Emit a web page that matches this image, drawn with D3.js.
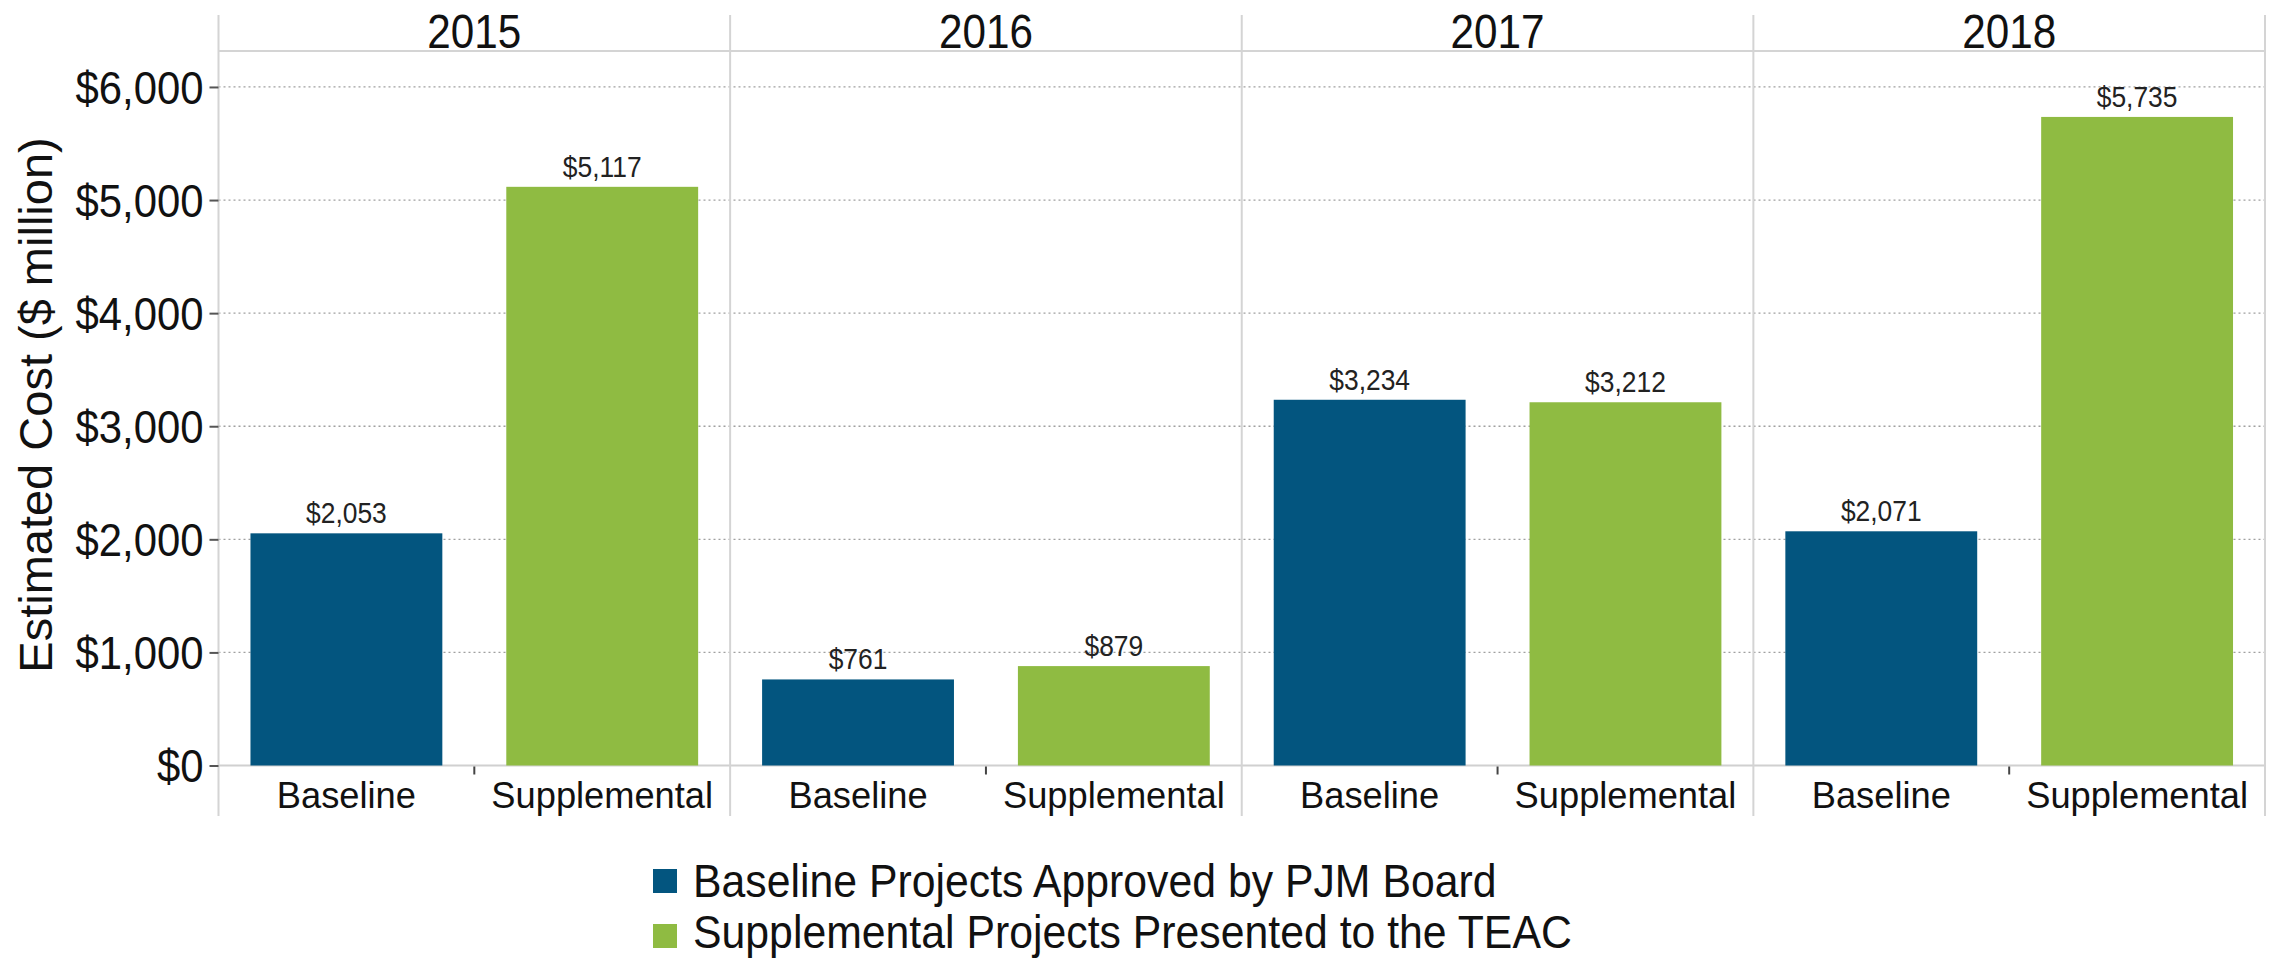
<!DOCTYPE html>
<html>
<head>
<meta charset="utf-8">
<script src="https://cdn.jsdelivr.net/npm/d3@7"></script>
<style>
  body { margin: 0; background: #fff; }
  svg text { font-family: "Liberation Sans", Arial, sans-serif; fill: #111; }
</style>
</head>
<body>
<div id="chart"></div>
<script>
// values ($ million)
var years = ["2015", "2016", "2017", "2018"];
var categories = ["Baseline", "Supplemental"];
var baselineCost = [2053, 761, 3234, 2071];
var supplementalCost = [5117, 879, 3212, 5735];
var yTicks = [0, 1000, 2000, 3000, 4000, 5000, 6000];
var legendLabels = ["Baseline Projects Approved by PJM Board", "Supplemental Projects Presented to the TEAC"];

var W = 2277, H = 962;
var plotLeft = 218.5, plotRight = 2265, plotTop = 51, plotBottom = 765.5;
var colors = ["#03557f", "#8fbb42"];

var svg = d3.select("#chart").append("svg")
    .attr("width", W)
    .attr("height", H);

// outer scale for the year panels, inner for the two categories
var fx = d3.scaleBand().domain(years).range([plotLeft, plotRight]);
var fc = d3.scaleBand().domain(categories).range([0, fx.bandwidth()])
    .paddingInner(0.25).paddingOuter(0.125);
var y = d3.scaleLinear().domain([0, 6318]).range([plotBottom, plotTop]);

// text is a bit narrower than Arial in the original
function place(sel, x, yy, sx) {
    sel.attr("transform", "translate(" + x + "," + yy + ") scale(" + sx + ",1)");
}

// dotted gridlines
svg.append("g")
    .selectAll("line")
    .data(yTicks.filter(d => d > 0))
    .enter().append("line")
    .attr("x1", plotLeft).attr("x2", plotRight)
    .attr("y1", d => y(d)).attr("y2", d => y(d))
    .style("stroke", "#a0a0a0")
    .style("stroke-width", 1.3)
    .style("stroke-dasharray", "2,3");

// panel frame: header line, baseline, dividers
svg.append("line")
    .attr("x1", plotLeft).attr("x2", plotRight).attr("y1", plotTop).attr("y2", plotTop)
    .style("stroke", "#d4d4d4").style("stroke-width", 2);
svg.append("line")
    .attr("x1", plotLeft).attr("x2", plotRight).attr("y1", plotBottom).attr("y2", plotBottom)
    .style("stroke", "#d0d0d0").style("stroke-width", 2);
svg.append("g")
    .selectAll("line")
    .data(years.concat(["end"]))
    .enter().append("line")
    .attr("x1", (d, i) => i < years.length ? fx(d) : plotRight)
    .attr("x2", (d, i) => i < years.length ? fx(d) : plotRight)
    .attr("y1", 15).attr("y2", 816)
    .style("stroke", "#d4d4d4").style("stroke-width", 2);

// y axis
var yAxis = svg.append("g")
    .attr("transform", "translate(" + plotLeft + ",0)")
    .call(d3.axisLeft(y).tickValues(yTicks).tickSize(9).tickPadding(0)
        .tickFormat(d => "$" + d3.format(",")(d)));
yAxis.select(".domain").remove();
yAxis.selectAll(".tick line").style("stroke", "#555").style("stroke-width", 2);
yAxis.selectAll(".tick text")
    .attr("x", 0)
    .attr("dy", "0.35em")
    .style("font-size", "46px")
    .style("fill", "#111")
    .style("font-family", "'Liberation Sans', Arial, sans-serif")
    .attr("transform", "translate(-15,0) scale(0.91,1)");

// y axis title
svg.append("text")
    .attr("transform", "translate(52,405) rotate(-90)")
    .attr("text-anchor", "middle")
    .style("font-size", "47px")
    .text("Estimated Cost ($ million)");

// year headers
svg.append("g")
    .selectAll("text")
    .data(years)
    .enter().append("text")
    .attr("text-anchor", "middle")
    .style("font-size", "48px")
    .text(d => d)
    .each(function(d) { place(d3.select(this), fx(d) + fx.bandwidth() / 2, 48, 0.88); });

// bars
var rows = years.map((yr, i) => ({ year: yr, values: [baselineCost[i], supplementalCost[i]] }));
var panel = svg.selectAll(".panel")
    .data(rows)
    .enter().append("g")
    .attr("class", "panel")
    .attr("transform", d => "translate(" + fx(d.year) + ",0)");

var bar = panel.selectAll(".bar")
    .data(d => d.values.map((v, j) => ({ cat: categories[j], value: v, idx: j })))
    .enter().append("g")
    .attr("class", "bar");

bar.append("rect")
    .attr("x", d => fc(d.cat))
    .attr("width", fc.bandwidth())
    .attr("y", d => y(d.value))
    .attr("height", d => plotBottom - y(d.value))
    .style("fill", d => colors[d.idx]);

// value labels
bar.append("text")
    .attr("text-anchor", "middle")
    .style("font-size", "30px")
    .style("fill", "#222")
    .text(d => "$" + d3.format(",")(d.value))
    .each(function(d) { place(d3.select(this), fc(d.cat) + fc.bandwidth() / 2, y(d.value) - 10, 0.88); });

// category labels and the small middle tick
panel.selectAll(".cat")
    .data(categories)
    .enter().append("text")
    .attr("class", "cat")
    .attr("text-anchor", "middle")
    .style("font-size", "37px")
    .text(d => d)
    .each(function(d) { place(d3.select(this), fc(d) + fc.bandwidth() / 2, 808, 0.98); });
panel.append("line")
    .attr("x1", fx.bandwidth() / 2).attr("x2", fx.bandwidth() / 2)
    .attr("y1", plotBottom + 1).attr("y2", plotBottom + 9)
    .style("stroke", "#444").style("stroke-width", 2);

// legend
var legend = svg.append("g")
    .selectAll("g")
    .data(legendLabels)
    .enter().append("g")
    .attr("transform", (d, i) => "translate(653," + (869 + i * 55) + ")");
legend.append("rect")
    .attr("width", 24).attr("height", 24)
    .style("fill", (d, i) => colors[i]);
legend.append("text")
    .style("font-size", "46px")
    .text(d => d)
    .each(function(d, i) { place(d3.select(this), 40, i === 0 ? 28 : 24, 0.93); });
</script>
</body>
</html>
